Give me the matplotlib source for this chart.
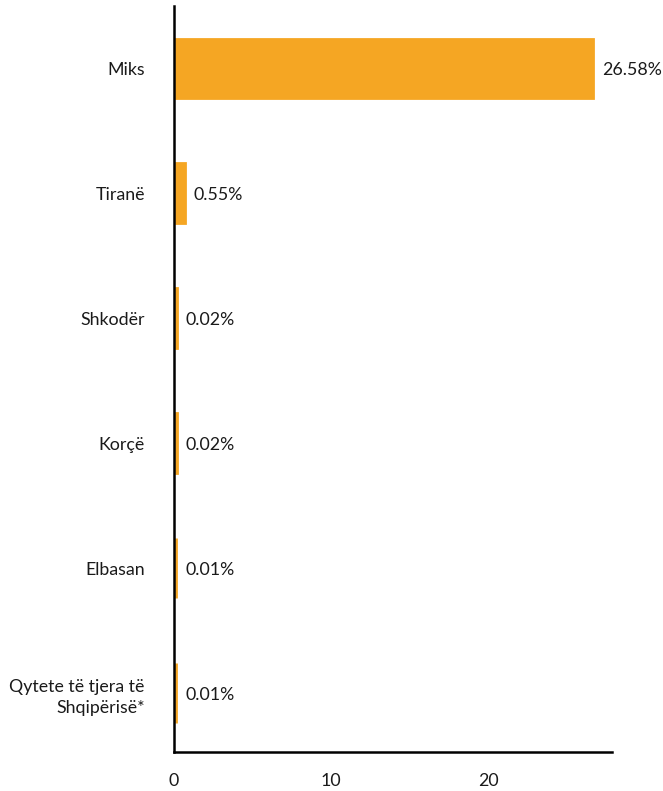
import matplotlib
matplotlib.use("Agg")
from matplotlib import pyplot as plt

# data
cities = ["Miks", "Tiranë", "Shkodër", "Korçë", "Elbasan", "Qytete të tjera të\nShqipërisë*"]
shares = [26.58, 0.55, 0.02, 0.02, 0.01, 0.01]
labels = ["26.58%", "0.55%", "0.02%", "0.02%", "0.01%", "0.01%"]

plt.rcParams['font.family'] = ['Lato', 'DejaVu Sans']

fig = plt.figure(figsize=(6.63, 7.91), dpi=100)
ax = fig.add_axes([0.2625, 0.0493, 0.6605, 0.9431])

orange = "#F5A623"
ypos = list(range(len(cities)))
# small offset from the spine + edge so the tiny shares stay visible
ax.barh(ypos, shares, height=0.48, color=orange, edgecolor=orange, linewidth=2.0, left=0.14)

for y, v, t in zip(ypos, shares, labels):
    ax.text(v + 0.14 + 0.55, y, t, va="center_baseline", ha="left", fontsize=12.8, color="#1a1a1a")

ax.set_yticks(ypos)
ax.set_yticklabels(cities, fontsize=12.8, color="#1a1a1a", ha="right", linespacing=1.4)
ax.set_ylim(5.47, -0.5)
ax.set_xlim(0, 27.9)
ax.set_xticks([0, 10, 20])
ax.tick_params(axis="y", length=0, pad=21)
ax.tick_params(axis="x", length=0, pad=15, labelsize=12.8, labelcolor="#1a1a1a")

for s in ["top", "right"]:
    ax.spines[s].set_visible(False)
ax.spines["left"].set_linewidth(1.8)
ax.spines["bottom"].set_linewidth(1.8)

fig.savefig("out.png", dpi=100)
